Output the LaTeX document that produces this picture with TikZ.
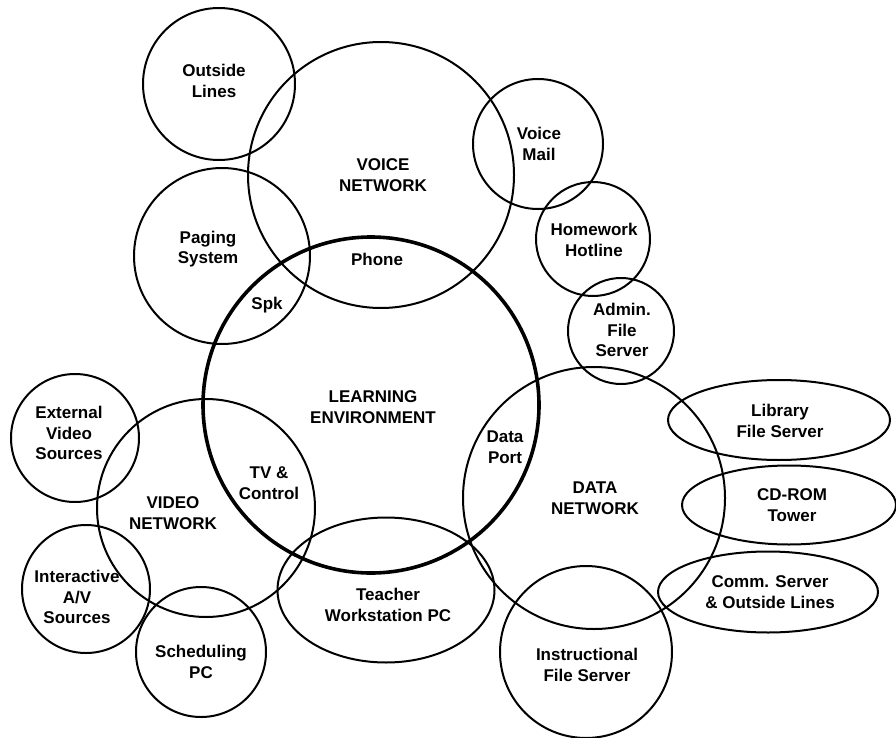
\documentclass[tikz,border=0pt]{standalone}
\usepackage{fontspec}
\setmainfont{Liberation Sans}
\usetikzlibrary{shapes.geometric,positioning}
\tikzset{
    ring/.style={draw, circle, inner sep=0pt, line width=2pt},
    oval/.style={draw, ellipse, inner sep=0pt, line width=2pt},
    core/.style={draw, circle, inner sep=0pt, line width=3.6pt},
    lbl/.style={align=center, font=\fontsize{17}{20.5}\selectfont\bfseries}
}

\begin{document}
\begin{tikzpicture}[x=1pt, y=-1pt]
    \useasboundingbox (0,0) rectangle (896,738);
    % voice side
    \node[ring, minimum size=152pt] (outside) at (219,84) {};
    \node[ring, minimum size=266pt] (voice) at (381,175) {};
    \node[ring, minimum size=176pt] (paging) at (222,256) {};
    \node[ring, minimum size=130pt] (vmail) at (538,144) {};
    \node[ring, minimum size=114pt] (hotline) at (593,239) {};
    \node[ring, minimum size=106pt] (admin) at (621,331) {};
    % video side
    \node[ring, minimum size=128pt] (extvid) at (75,438) {};
    \node[ring, minimum size=218pt] (video) at (206,508) {};
    \node[ring, minimum size=128pt] (interav) at (86,589) {};
    \node[ring, minimum size=130pt] (sched) at (201,652) {};
    \node[oval, minimum width=217pt, minimum height=145pt] (teacher) at (386,590) {};
    % data side
    \node[ring, minimum size=262pt] (data) at (594,498) {};
    \node[oval, minimum width=222pt, minimum height=80pt] (library) at (779,420) {};
    \node[oval, minimum width=214pt, minimum height=79pt] (cdrom) at (789,505) {};
    \node[oval, minimum width=220pt, minimum height=81pt] (comm) at (768,592) {};
    \node[ring, minimum size=172pt] (instr) at (586,652) {};
    % the learning environment
    \node[core, minimum size=336pt] (learn) at (371,405) {};

    % labels
    \node[lbl] (outside-t) at (214,81) {Outside\\Lines};
    \node[lbl] (voice-t) at (383,175) {VOICE\\NETWORK};
    \node[lbl] (paging-t) at (208,249) {Paging\\System};
    \node[lbl] (phone-t) at (377,259) {Phone};
    \node[lbl] (spk-t) at (267,305) {Spk};
    \node[lbl] (vmail-t) at (539,144) {Voice\\Mail};
    \node[lbl] (hotline-t) at (594,240) {Homework\\Hotline};
    \node[lbl] (admin-t) at (622,330) {Admin.\\File\\Server};
    \node[lbl] (learn-t) at (373,407) {LEARNING\\ENVIRONMENT};
    \node[lbl] (extvid-t) at (69,433) {External\\Video\\Sources};
    \node[lbl] (video-t) at (173,513) {VIDEO\\NETWORK};
    \node[lbl] (tv-t) at (269,483) {TV \&\\Control};
    \node[lbl] (interav-t) at (77,597) {Interactive\\A/V\\Sources};
    \node[lbl] (sched-t) at (201,662) {Scheduling\\PC};
    \node[lbl] (teacher-t) at (388,605) {Teacher\\Workstation PC};
    \node[lbl] (port-t) at (505,447) {Data\\Port};
    \node[lbl] (data-t) at (595,498) {DATA\\NETWORK};
    \node[lbl] (library-t) at (780,421) {Library\\File Server};
    \node[lbl] (cdrom-t) at (792,505) {CD-ROM\\Tower};
    \node[lbl] (comm-t) at (770,592) {Comm. Server\\\& Outside Lines};
    \node[lbl] (instr-t) at (587,665) {Instructional\\File Server};
\end{tikzpicture}
\end{document}
